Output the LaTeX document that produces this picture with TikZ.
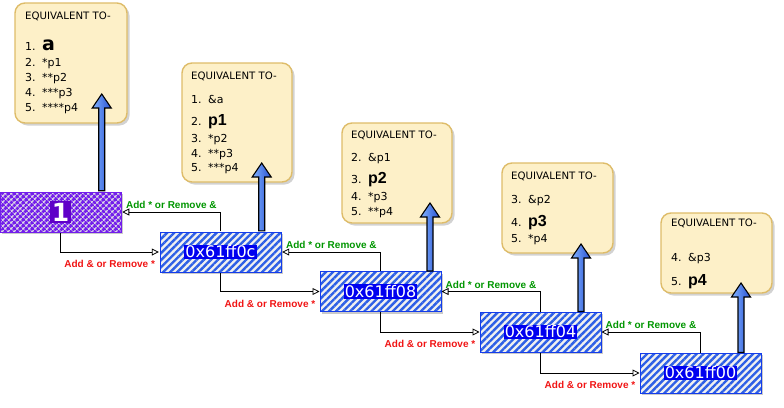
\documentclass[tikz,border=0pt]{standalone}
\usepackage{fontspec}
\setmainfont{Liberation Sans}
\newfontfamily\verd{DejaVu Sans}
\usetikzlibrary{patterns.meta,calc,arrows.meta}
\definecolor{eqfill}{RGB}{253,240,200}
\definecolor{eqborder}{RGB}{222,188,105}
\definecolor{stripeblue}{RGB}{45,95,230}
\definecolor{boxblue}{RGB}{20,60,235}
\definecolor{hlblue}{RGB}{0,0,240}
\definecolor{purp}{RGB}{115,30,235}
\definecolor{hlpurple}{RGB}{95,0,200}
\definecolor{labgreen}{RGB}{0,150,0}
\definecolor{labred}{RGB}{240,20,20}
\definecolor{arrL}{RGB}{130,180,255}
\definecolor{arrD}{RGB}{40,80,210}
\newcommand\addr[1]{{\setlength\fboxsep{1pt}\colorbox{hlblue}{\textcolor{white}{\verd\fontsize{16}{16}\selectfont #1}}}}
\newcommand\bigarrow[2]{%
  \path[bigarr] let \p1=#1, \p2=#2 in
    ({\x1-3pt},\y1) -- ({\x1-3pt},{\y2-14pt}) -- ({\x1-9.5pt},{\y2-14pt}) -- (\x1,\y2)
    -- ({\x1+9.5pt},{\y2-14pt}) -- ({\x1+3pt},{\y2-14pt}) -- ({\x1+3pt},\y1) -- cycle;}
\newcommand\nm[1]{\makebox[17pt][l]{#1}}
\newcommand\bigtxt{\fontfamily{\rmdefault}\fontsize{16}{16}\selectfont\bfseries}
\newcommand\biga{\fontsize{19}{19}\selectfont\bfseries}
\tikzset{
  eqbox/.style={draw=eqborder, fill=eqfill, line width=1.4pt, rounded corners=10pt,
    preaction={fill=black!35, opacity=.5, transform canvas={shift={(2.5pt,-2.5pt)}}}},
  eqtxt/.style={anchor=base west, inner sep=0pt, font=\verd\fontsize{11}{11}\selectfont},
  eqhead/.style={anchor=base west, inner sep=0pt, font=\verd\fontsize{10.2}{10.2}\selectfont},
  addrbox/.style={draw=boxblue, line width=1pt, minimum width=121pt, minimum height=40pt, inner sep=0pt,
    preaction={fill=black!35, opacity=.6, transform canvas={shift={(2pt,-2pt)}}},
    preaction={fill=black!6},
    pattern={Lines[angle=45,distance=5pt,line width=2.4pt]}, pattern color=stripeblue},
  onebox/.style={draw=purp, line width=1pt, minimum width=121pt, minimum height=40pt, inner sep=0pt,
    preaction={fill=black!35, opacity=.6, transform canvas={shift={(2pt,-2pt)}}},
    preaction={fill=black!10},
    pattern={Hatch[angle=45,distance=4pt,line width=2.5pt]}, pattern color=purp},
  bigarr/.style={draw=black, line width=1.1pt, left color=arrL, right color=arrD},
  conn/.style={draw=black, line width=0.8pt, -{Triangle[open,length=7pt,width=7pt]}},
  glab/.style={text=labgreen, inner sep=0pt, font=\fontsize{10}{10}\selectfont\bfseries},
  rlab/.style={text=labred, inner sep=0pt, font=\fontsize{10}{10}\selectfont\bfseries}
}
\begin{document}
\begin{tikzpicture}[x=1pt,y=-1pt]
\useasboundingbox (0,0) rectangle (784,407);
% yellow boxes
\node[eqbox, minimum width=112pt, minimum height=120pt] (yA) at (71,63) {};
\node[eqbox, minimum width=110pt, minimum height=119pt] (yB) at (237,122.5) {};
\node[eqbox, minimum width=110pt, minimum height=100pt] (yC) at (397,173) {};
\node[eqbox, minimum width=111pt, minimum height=90pt] (yD) at (557.5,208) {};
\node[eqbox, minimum width=111pt, minimum height=80pt] (yE) at (716.5,253) {};
% texts A
\node[eqhead] (A0) at (25,19) {EQUIVALENT TO-};
\node[eqtxt] (A1) at (25,50) {\nm{1.}{\biga a}};
\node[eqtxt] (A2) at (25,66) {\nm{2.}*p1};
\node[eqtxt] (A3) at (25,81) {\nm{3.}**p2};
\node[eqtxt] (A4) at (25,96) {\nm{4.}***p3};
\node[eqtxt] (A5) at (25,111) {\nm{5.}****p4};
% texts B
\node[eqhead] (B0) at (191,79) {EQUIVALENT TO-};
\node[eqtxt] (B1) at (191,103) {\nm{1.}\&a};
\node[eqtxt] (B2) at (191,125) {\nm{2.}{\bigtxt p1}};
\node[eqtxt] (B3) at (191,142) {\nm{3.}*p2};
\node[eqtxt] (B4) at (191,157) {\nm{4.}**p3};
\node[eqtxt] (B5) at (191,171) {\nm{5.}***p4};
% texts C
\node[eqhead] (C0) at (351,138) {EQUIVALENT TO-};
\node[eqtxt] (C1) at (351,161) {\nm{2.}\&p1};
\node[eqtxt] (C2) at (351,183) {\nm{3.}{\bigtxt p2}};
\node[eqtxt] (C3) at (351,200) {\nm{4.}*p3};
\node[eqtxt] (C4) at (351,215) {\nm{5.}**p4};
% texts D
\node[eqhead] (D0) at (511,179) {EQUIVALENT TO-};
\node[eqtxt] (D1) at (511,203) {\nm{3.}\&p2};
\node[eqtxt] (D2) at (511,226) {\nm{4.}{\bigtxt p3}};
\node[eqtxt] (D3) at (511,242) {\nm{5.}*p4};
% texts E
\node[eqhead] (E0) at (671,226) {EQUIVALENT TO-};
\node[eqtxt] (E1) at (671,261) {\nm{4.}\&p3};
\node[eqtxt] (E2) at (671,285) {\nm{5.}{\bigtxt p4}};
% address boxes
\node[onebox] (b1) at (60.5,212) {\setlength\fboxsep{2pt}\colorbox{hlpurple}{\textcolor{white}{\verd\bfseries\fontsize{25}{25}\selectfont 1}}};
\node[addrbox] (b2) at (220.5,252) {\addr{0x61ff0c}};
\node[addrbox] (b3) at (380.5,291.5) {\addr{0x61ff08}};
\node[addrbox] (b4) at (540.5,332) {\addr{0x61ff04}};
\node[addrbox] (b5) at (700.5,373) {\addr{0x61ff00}};
% tips
\coordinate (tA) at (100,94);
\coordinate (tB) at (260,163);
\coordinate (tC) at (429,203);
\coordinate (tD) at (580,244);
\coordinate (tE) at (740,283);
\bigarrow{($(b1.north east)+(-20.5,0)$)}{(tA)}
\bigarrow{($(b2.north east)+(-20.5,0)$)}{(tB)}
\bigarrow{($(b3.north east)+(-11.5,0)$)}{(tC)}
\bigarrow{($(b4.north east)+(-20.5,0)$)}{(tD)}
\bigarrow{($(b5.north east)+(-20.5,0)$)}{(tE)}
% connectors
\draw[conn] (b2.north) |- node[pos=0.75, above=3pt, glab] (g1) {Add * or Remove \&} (b1.east);
\draw[conn] (b3.north) |- node[pos=0.75, above=3pt, glab] (g2) {Add * or Remove \&} (b2.east);
\draw[conn] (b4.north) |- node[pos=0.75, above=3pt, glab] (g3) {Add * or Remove \&} (b3.east);
\draw[conn] (b5.north) |- node[pos=0.75, above=3pt, glab] (g4) {Add * or Remove \&} (b4.east);
\draw[conn] (b1.south) |- node[pos=0.75, below=8pt, rlab] (r1) {Add \& or Remove *} (b2.west);
\draw[conn] (b2.south) |- node[pos=0.75, below=8pt, rlab] (r2) {Add \& or Remove *} (b3.west);
\draw[conn] (b3.south) |- node[pos=0.75, below=8pt, rlab] (r3) {Add \& or Remove *} (b4.west);
\draw[conn] (b4.south) |- node[pos=0.75, below=8pt, rlab] (r4) {Add \& or Remove *} (b5.west);
\end{tikzpicture}
\end{document}
